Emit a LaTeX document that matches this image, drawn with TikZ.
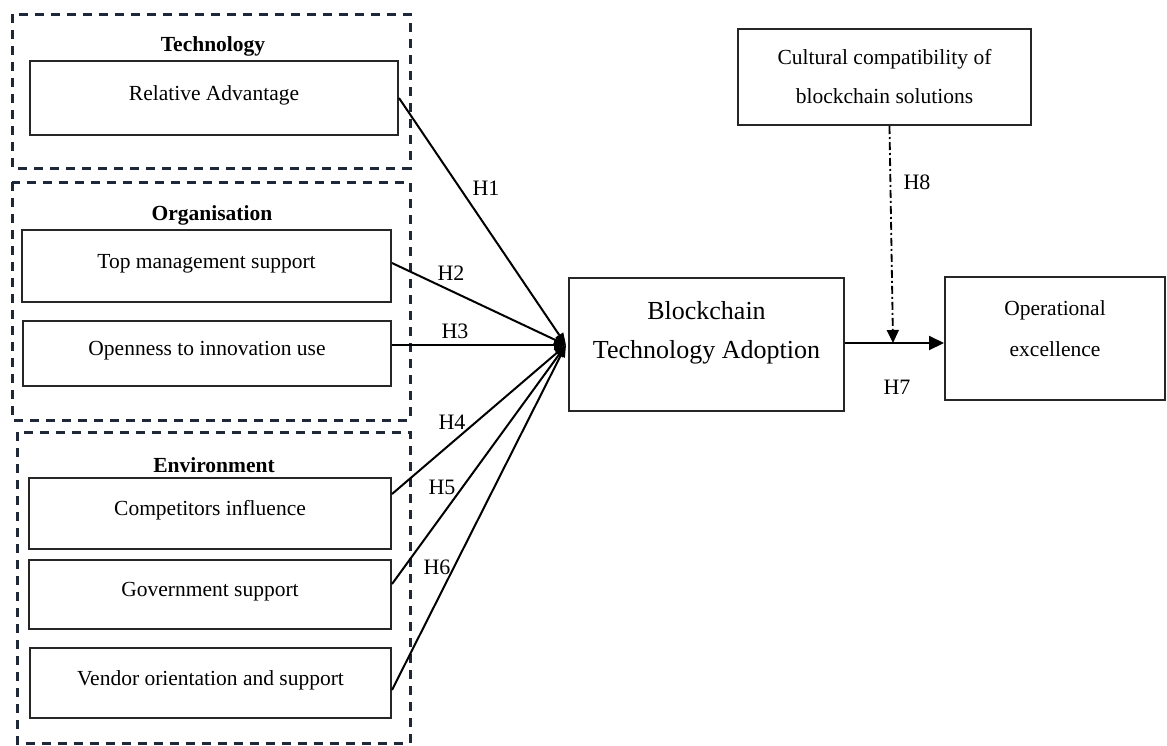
\documentclass[tikz,border=0pt]{standalone}
\usepackage{fontspec}
\setmainfont{Liberation Serif}
\usetikzlibrary{arrows.meta}
\definecolor{groupnavy}{RGB}{30,40,56}
\tikzset{
	factor/.style={draw=black!85, line width=2pt, inner sep=0pt, text height=16pt, text depth=12pt, font=\fontsize{21.5}{26}\selectfont},
	group/.style={draw=groupnavy, line width=3pt, dash pattern=on 9pt off 7pt},
	grouptitle/.style={font=\fontsize{21.5}{26}\selectfont\bfseries},
	hypo/.style={font=\fontsize{22}{26}\selectfont, inner sep=0pt},
	link/.style={line width=2pt, -{Triangle[length=12pt,width=9pt]}},
	biglink/.style={line width=2pt, -{Triangle[length=15pt,width=14pt]}},
	modlink/.style={line width=1.8pt, dash pattern=on 8pt off 3pt on 2pt off 3pt, -{Triangle[length=13pt,width=12pt]}}
}

\begin{document}
\begin{tikzpicture}[x=1pt, y=-1pt]
			%%%%% START %%%%%
			\useasboundingbox (0, 0) rectangle (1167, 745);
			
			\draw[group] (12, 14) rectangle (410, 168);
			\draw[group] (12, 182) rectangle (410, 420);
			\draw[group] (17, 432) rectangle (410, 743);
			
			\node[grouptitle] (tech) at (213, 46) {Technology};
			\node[grouptitle] (org) at (212, 215) {Organisation};
			\node[grouptitle] (env) at (214, 465) {Environment};
			
			\node[factor, minimum width=368, minimum height=74] (ra) at (214, 98) {Relative Advantage};
			\node[factor, minimum width=369, minimum height=72] (tms) at (206.5, 266) {Top management support};
			\node[factor, minimum width=368, minimum height=65] (oiu) at (207, 353.5) {Openness to innovation use};
			\node[factor, minimum width=362, minimum height=71] (comp) at (210, 513.5) {Competitors influence};
			\node[factor, minimum width=362, minimum height=69] (gov) at (210, 594.5) {Government support};
			\node[factor, minimum width=361, minimum height=70] (ven) at (210.5, 683) {Vendor orientation and support};
			
			\node[factor, minimum width=275, minimum height=133,
				label={[font=\fontsize{26}{39}\selectfont, align=center, yshift=12pt]center:Blockchain\\Technology Adoption}] (bta) at (706.5, 344.5) {};
			\node[factor, minimum width=220, minimum height=123,
				label={[font=\fontsize{21.5}{41}\selectfont, align=center, yshift=10pt]center:Operational\\excellence}] (ope) at (1055, 338.5) {};
			\node[factor, minimum width=293, minimum height=96, text height=, text depth=, align=center,
				font=\fontsize{21.5}{39}\selectfont] (cult) at (884.5, 77) {Cultural compatibility of\\blockchain solutions};
			
			\coordinate (hub) at (566, 345);
			\coordinate (mod) at (893, 343);
			
			\draw[link] (ra.east) -- (hub);
			\draw[link] ([yshift=3pt]tms.east) -- (hub);
			\draw[link] (oiu.east |- hub) -- (hub);
			\draw[link] ([yshift=19.5pt]comp.east) -- (hub);
			\draw[link] ([yshift=10.5pt]gov.east) -- (hub);
			\draw[link] ([yshift=-7pt]ven.east) -- (hub);
			\draw[biglink] (bta.east |- mod) -- (ope.west |- mod);
			\draw[modlink] ([xshift=5pt]cult.south) -- (mod);
			
			\node[hypo] (h1) at (486, 188) {H1};
			\node[hypo] (h2) at (451, 273) {H2};
			\node[hypo] (h3) at (455, 331) {H3};
			\node[hypo] (h4) at (452, 422) {H4};
			\node[hypo] (h5) at (442, 487) {H5};
			\node[hypo] (h6) at (437, 567) {H6};
			\node[hypo] (h7) at (897, 387) {H7};
			\node[hypo] (h8) at (917, 182) {H8};
			
			%%%%% END %%%%%
		\end{tikzpicture}
\end{document}
